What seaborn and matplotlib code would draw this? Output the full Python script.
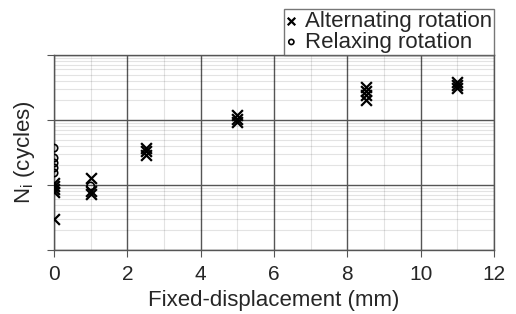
import numpy as np
import pandas as pd
import seaborn as sns
import matplotlib.pyplot as plt
from matplotlib.ticker import LogLocator, MultipleLocator, NullFormatter

# Données
alt_x = [0, 0, 0, 0, 0, 1, 1, 1, 2.5, 2.5, 2.5, 5, 5, 5, 8.5, 8.5, 8.5, 8.5, 11, 11, 11]
alt_n = [10700, 9650, 8680, 7800, 3000, 12800, 8090, 7270, 37000, 33400, 28900,
         119000, 104000, 93100, 322000, 279000, 242000, 203000, 384000, 345000, 311000]
rel_x = [0, 0, 0, 0, 0, 1]
rel_n = [37000, 26000, 21800, 18300, 15300, 9650]

df_alt = pd.DataFrame({"disp": alt_x, "N": alt_n})
df_rel = pd.DataFrame({"disp": rel_x, "N": rel_n})

sns.set_style("white")
plt.rcParams["font.family"] = ["Liberation Sans", "DejaVu Sans"]

fig = plt.figure(figsize=(5.16, 3.14), dpi=100)
ax = fig.add_axes([0.1047, 0.2038, 0.8527, 0.621])

sns.scatterplot(data=df_alt, x="disp", y="N", marker="x", color="black",
                s=60, linewidth=1.6, ax=ax, label="Alternating rotation", zorder=5)
sns.scatterplot(data=df_rel, x="disp", y="N", marker="o", facecolor="none",
                edgecolor="black", s=28, linewidth=1.2, ax=ax,
                label="Relaxing rotation", zorder=5)

ax.set_yscale("log")
ax.set_xlim(0, 12)
ax.set_ylim(1e3, 1e6)
ax.xaxis.set_major_locator(MultipleLocator(2))
ax.xaxis.set_minor_locator(MultipleLocator(1))
ax.yaxis.set_major_locator(LogLocator(base=10, numticks=10))
ax.yaxis.set_minor_locator(LogLocator(base=10, subs=np.arange(2, 10), numticks=20))
ax.yaxis.set_major_formatter(NullFormatter())
ax.yaxis.set_minor_formatter(NullFormatter())

# grille : mineure transparente pour ne pas couper les lignes majeures
ax.grid(which="major", color="#555555", linewidth=1.0)
ax.grid(which="minor", color="black", alpha=0.11, linewidth=0.8)
ax.set_axisbelow(True)
for s in ax.spines.values():
    s.set_color("#555555")
    s.set_linewidth(1.0)

ax.tick_params(axis="x", which="major", direction="out", length=5, color="#555555",
               labelsize=15, pad=6, bottom=True)
ax.tick_params(axis="y", which="major", direction="out", length=5, color="#555555",
               left=True)
ax.tick_params(which="minor", length=0)

ax.set_xlabel("Fixed-displacement (mm)", fontsize=16, labelpad=4)
ax.set_ylabel(r"N$_\mathregular{i}$ (cycles)", fontsize=16, labelpad=4)

leg = ax.legend(loc="lower right", bbox_to_anchor=(1.0, 1.0), borderaxespad=0,
                frameon=True, fancybox=False, fontsize=16, handlelength=0.5,
                handletextpad=0.35, borderpad=0.1, labelspacing=0.0, markerscale=0.7)
leg.get_frame().set_edgecolor("#555555")
leg.get_frame().set_linewidth(1.0)

plt.savefig("out.png", dpi=100)
